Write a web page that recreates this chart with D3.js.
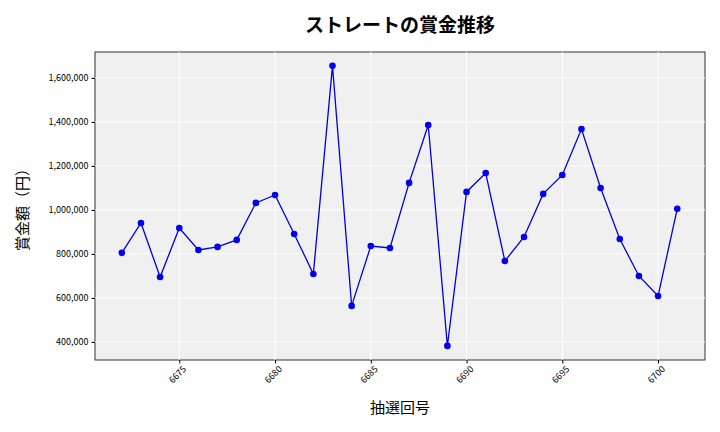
<!DOCTYPE html><html><head><meta charset="utf-8">
<script src="https://cdn.jsdelivr.net/npm/d3@7"></script>
<style>body{margin:0;background:#fff}text{font-family:"Noto Sans CJK JP","Noto Sans",sans-serif}</style></head><body>
<svg id="c" width="720" height="432"></svg>
<script>
const draws=[6672,6673,6674,6675,6676,6677,6678,6679,6680,6681,6682,6683,6684,6685,6686,6687,6688,6689,6690,6691,6692,6693,6694,6695,6696,6697,6698,6699,6700,6701];
const prizes=[805000,941000,695000,918000,818000,832000,864000,1032000,1068000,891000,709000,1655000,564000,836000,827000,1123000,1386000,382000,1082000,1168000,768000,877000,1073000,1159000,1368000,1100000,868000,700000,609000,1005000];
const xTicks=[6675,6680,6685,6690,6695,6700];
const yTicks=[400000,600000,800000,1000000,1200000,1400000,1600000];
const svg=d3.select("#c");
const L=95,R=705,T=52,B=360;
const x=d3.scaleLinear().domain([6670.6,6702.45]).range([L,R]);
const y=d3.scaleLinear().domain([318000,1718000]).range([B,T]);
svg.append("rect").attr("x",L).attr("y",T).attr("width",R-L).attr("height",B-T).attr("fill","#f0f0f0").attr("stroke","#000").attr("stroke-width",0.8);
const g=svg.append("g");
xTicks.forEach(t=>g.append("line").attr("x1",x(t)).attr("x2",x(t)).attr("y1",T).attr("y2",B).attr("stroke","#fff"));
yTicks.forEach(t=>g.append("line").attr("y1",y(t)).attr("y2",y(t)).attr("x1",L).attr("x2",R).attr("stroke","#fff"));
const xa=svg.append("g").attr("transform",`translate(0,${B})`).call(d3.axisBottom(x).tickValues(xTicks).tickFormat(d3.format("d")).tickSize(3.5));
xa.select(".domain").remove();
xa.selectAll("text").attr("font-size",9).attr("transform","rotate(-45)").attr("text-anchor","end").attr("dx","-0.2em").attr("dy","0.6em");
const ya=svg.append("g").attr("transform",`translate(${L},0)`).call(d3.axisLeft(y).tickValues(yTicks).tickFormat(d3.format(",")).tickSize(3.5));
ya.select(".domain").remove();
ya.selectAll("text").attr("font-size",9);
svg.append("path").datum(draws.map((d,i)=>[d,prizes[i]])).attr("fill","none").attr("stroke","#0000dd").attr("stroke-width",1.3)
 .attr("d",d3.line().x(d=>x(d[0])).y(d=>y(d[1])));
svg.selectAll(".p").data(prizes).enter().append("circle").attr("cx",(d,i)=>x(draws[i])).attr("cy",d=>y(d)).attr("r",3.3).attr("fill","#0000ee");
svg.append("text").attr("x",400).attr("y",32).attr("text-anchor","middle").attr("font-size",19).attr("font-weight","bold").text("ストレートの賞金推移");
svg.append("text").attr("x",400).attr("y",413).attr("text-anchor","middle").attr("font-size",15).text("抽選回号");
svg.append("text").attr("transform","translate(28,206) rotate(-90)").attr("text-anchor","middle").attr("font-size",15).text("賞金額（円）");
</script></body></html>
